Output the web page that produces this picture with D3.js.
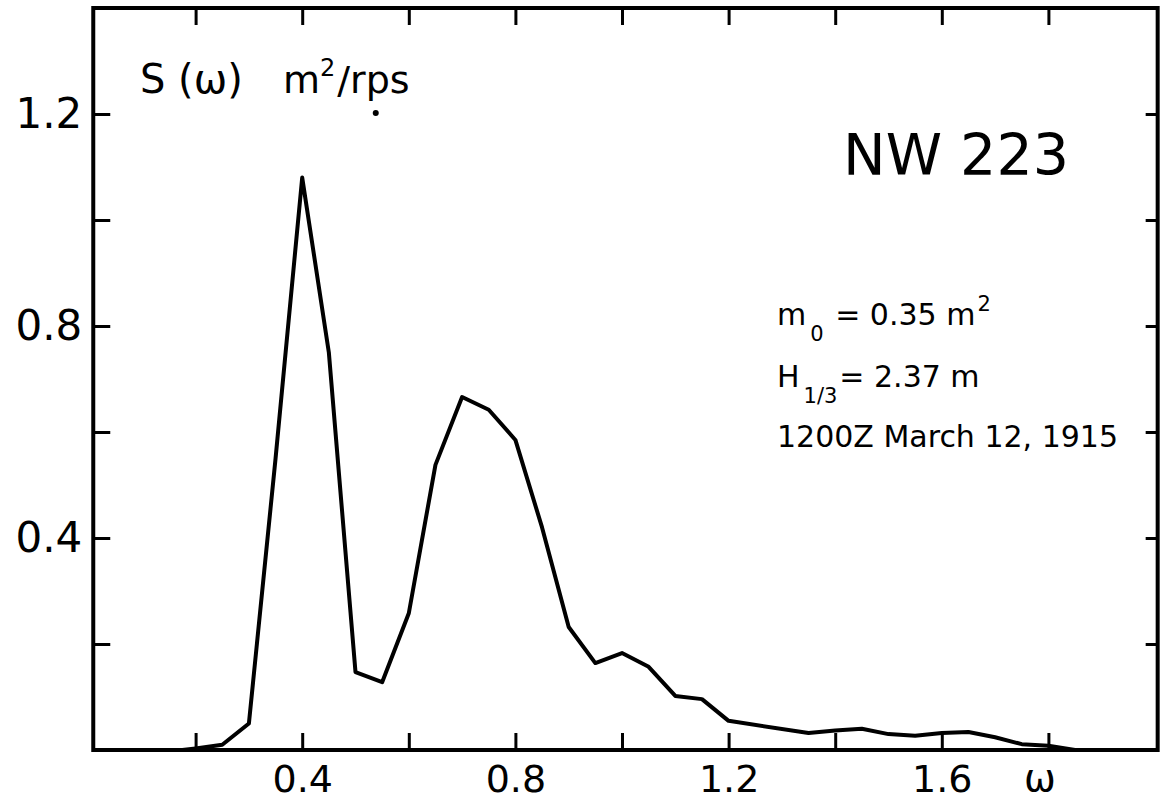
<!DOCTYPE html>
<html><head><meta charset="utf-8">
<script src="https://cdn.jsdelivr.net/npm/d3@7"></script>
<style>
body{margin:0;background:#fff}
svg{display:block}
text{font-family:"DejaVu Sans",sans-serif;fill:#000}
</style>
</head><body>
<svg id="c" width="1162" height="802"></svg>
<script>
// ---- data ----
const omega    = [0.175, 0.20, 0.25, 0.30, 0.35, 0.40, 0.45, 0.50, 0.55, 0.60, 0.65, 0.70, 0.75, 0.80, 0.85, 0.90, 0.95, 1.00, 1.05, 1.10, 1.15, 1.20, 1.35, 1.40, 1.45, 1.50, 1.55, 1.60, 1.65, 1.70, 1.75, 1.80, 1.85];
const spectrum = [0.000, 0.003, 0.010, 0.050, 0.550, 1.080, 0.750, 0.147, 0.128, 0.258, 0.538, 0.666, 0.642, 0.585, 0.420, 0.232, 0.164, 0.183, 0.157, 0.102, 0.096, 0.055, 0.032, 0.037, 0.040, 0.030, 0.027, 0.032, 0.034, 0.024, 0.011, 0.008, 0.000];
const xTicks      = [0.2, 0.4, 0.6, 0.8, 1.0, 1.2, 1.4, 1.6, 1.8];
const xTickLabels = [0.4, 0.8, 1.2, 1.6];
const yTicks      = [0.2, 0.4, 0.6, 0.8, 1.0, 1.2];
const yTickLabels = [0.4, 0.8, 1.2];
const title = "NW 223";
const yLabel = "S (ω)";
const yUnit = ["m", "2", "/rps"];
const xLabel = "ω";
const notes = [
  [["m",""],["0","sub"],[" = 0.35 m",""],["2","sup"]],
  [["H",""],["1/3","sub"],["= 2.37 m",""]],
  [["1200Z  March 12, 1915",""]]
];

// ---- scales ----
const svg = d3.select("#c");
const x = d3.scaleLinear().domain([0, 2]).range([89, 1155]);
const y = d3.scaleLinear().domain([0, 1.4]).range([750, 8]);
const xMin = 0.008, xMax = 2.005, yMin = 0, yMax = 1.4;
const fmt = d3.format(".1f");

function styleAxis(g, fs){
  g.select(".domain").remove();
  g.attr("font-family", null).attr("font-size", null);
  g.selectAll(".tick line").attr("stroke", "#000").attr("stroke-width", 3);
  g.selectAll(".tick text").attr("font-size", fs).attr("fill", "#000")
    .style("font-family", '"DejaVu Sans",sans-serif');
}

// bottom axis (ticks inward, labels outside)
svg.append("g").attr("transform", `translate(0,${y(yMin)})`)
  .call(d3.axisBottom(x).tickValues(xTicks).tickSizeInner(-17).tickSizeOuter(0).tickPadding(15)
    .tickFormat(d => xTickLabels.includes(d) ? fmt(d) : ""))
  .call(g => styleAxis(g, 38));

// top axis
svg.append("g").attr("transform", `translate(0,${y(yMax)})`)
  .call(d3.axisTop(x).tickValues(xTicks).tickSizeInner(-17).tickSizeOuter(0).tickFormat(""))
  .call(g => styleAxis(g, 38));

// left axis
svg.append("g").attr("transform", `translate(${x(xMin)},0)`)
  .call(d3.axisLeft(y).tickValues(yTicks).tickSizeInner(-17).tickSizeOuter(0).tickPadding(11)
    .tickFormat(d => yTickLabels.includes(d) ? fmt(d) : ""))
  .call(g => styleAxis(g, 42));

// right axis
svg.append("g").attr("transform", `translate(${x(xMax)},0)`)
  .call(d3.axisRight(y).tickValues(yTicks).tickSizeInner(-12).tickSizeOuter(0).tickFormat(""))
  .call(g => styleAxis(g, 42));

// frame
svg.append("rect")
  .attr("x", x(xMin)).attr("y", y(yMax))
  .attr("width", x(xMax) - x(xMin)).attr("height", y(yMin) - y(yMax))
  .attr("fill", "none").attr("stroke", "#000").attr("stroke-width", 4);

// spectrum line
const pts = omega.map((w, i) => [w, spectrum[i]]);
svg.append("path").datum(pts)
  .attr("d", d3.line().x(d => x(d[0])).y(d => y(d[1])).curve(d3.curveLinear))
  .attr("fill", "none").attr("stroke", "#000").attr("stroke-width", 4)
  .attr("stroke-linejoin", "round").attr("stroke-linecap", "round");

// axis labels
svg.append("text").attr("x", 140).attr("y", 93).attr("font-size", 40).text(yLabel);
const u = svg.append("text").attr("x", 283).attr("y", 93).attr("font-size", 38);
u.append("tspan").text(yUnit[0]);
u.append("tspan").attr("font-size", 24).attr("dy", -17).text(yUnit[1]);
u.append("tspan").attr("dy", 17).attr("dx", 2).text(yUnit[2]);
svg.append("circle").attr("cx", x(0.538)).attr("cy", y(1.202)).attr("r", 3).attr("fill", "#000");

svg.append("text").attr("x", 1040).attr("y", 791).attr("font-size", 38)
  .attr("text-anchor", "middle").text(xLabel);

// title
svg.append("text").attr("x", 843).attr("y", 175).attr("font-size", 57).text(title);

// notes
const baselines = [325, 387, 447];
notes.forEach((line, i) => {
  const t = svg.append("text").attr("x", 777).attr("y", baselines[i]).attr("font-size", 30);
  let shift = 0;
  line.forEach(([s, kind]) => {
    const ts = t.append("tspan").text(s);
    if (kind === "sub") { ts.attr("font-size", 21).attr("dy", 16 - shift).attr("dx", 4); shift = 16; }
    else if (kind === "sup") { ts.attr("font-size", 21).attr("dy", -14 - shift).attr("dx", 2); shift = -14; }
    else { ts.attr("dy", -shift).attr("dx", shift !== 0 ? 2 : 0); shift = 0; }
  });
});
</script>
</body></html>
